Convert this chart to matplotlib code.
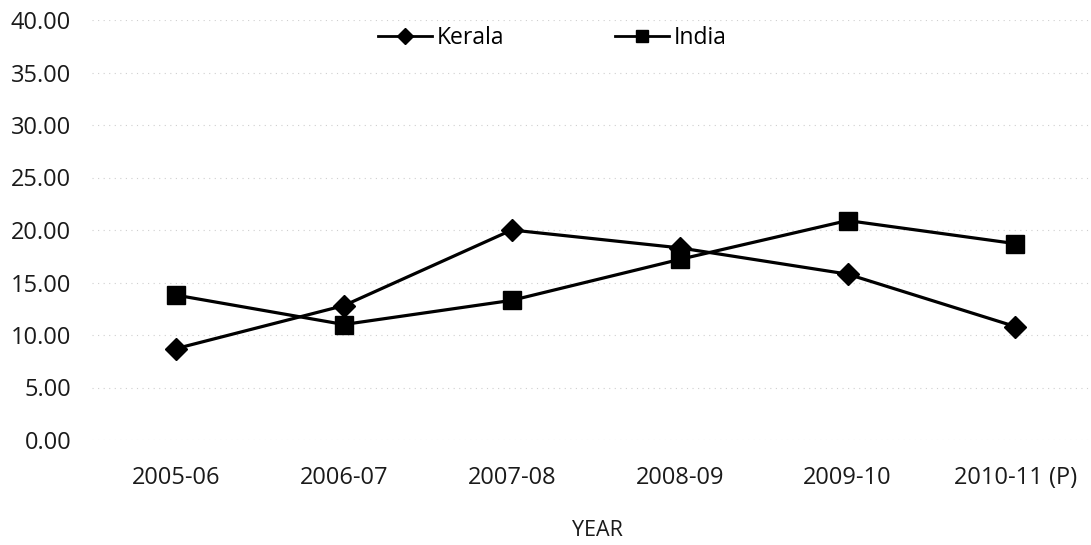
import matplotlib
matplotlib.use("Agg")
import matplotlib.pyplot as plt
from matplotlib.lines import Line2D
import numpy as np

years = ["2005-06", "2006-07", "2007-08", "2008-09", "2009-10", "2010-11 (P)"]
kerala = [8.7, 12.8, 20.0, 18.3, 15.8, 10.8]
india = [13.8, 11.0, 13.3, 17.2, 20.9, 18.7]
y_ticks = [0, 5, 10, 15, 20, 25, 30, 35, 40]

plt.rcParams["font.family"] = ["Open Sans", "DejaVu Sans"]

W, H = 1091, 545
fig = plt.figure(figsize=(W / 100, H / 100), dpi=100)
ax = fig.add_axes([92 / W, 105 / H, 1 - 92 / W, 420 / H])

x = np.arange(len(years))
ax.plot(x, kerala, color="black", lw=2.3, marker="D", markersize=11.5)
ax.plot(x, india, color="black", lw=2.3, marker="s", markersize=13)

ax.set_xlim(-0.5, 5.45)
ax.set_ylim(0, 40)
ax.set_yticks(y_ticks)
ax.set_yticklabels([f"{v:.2f}" for v in y_ticks])
ax.set_xticks(x)
ax.set_xticklabels(years)
ax.tick_params(axis="both", length=0, labelsize=17, colors="#1a1a1a")
ax.tick_params(axis="x", pad=19)
ax.tick_params(axis="y", pad=15)

ax.grid(axis="y", color="#cfcfcf", lw=0.8, ls=(0, (1, 4)))
ax.set_axisbelow(True)
for s in ax.spines.values():
    s.set_visible(False)

ax.set_xlabel("YEAR", fontsize=15.5, color="#1a1a1a", va="center")
ax.xaxis.set_label_coords(597 / W, 1 - 530 / H, transform=fig.transFigure)

handles = [
    Line2D([], [], color="black", lw=2, marker="D", markersize=8),
    Line2D([], [], color="black", lw=2, marker="s", markersize=9),
]
fig.legend(handles, ["Kerala", "India"], loc="center left",
           bbox_to_anchor=(378 / W, 1 - 38 / H), ncol=2, frameon=False,
           fontsize=16.5, columnspacing=4.8, handlelength=2.36,
           handletextpad=0.22, borderpad=0, borderaxespad=0)

fig.savefig("out.png", dpi=100, facecolor="white")
